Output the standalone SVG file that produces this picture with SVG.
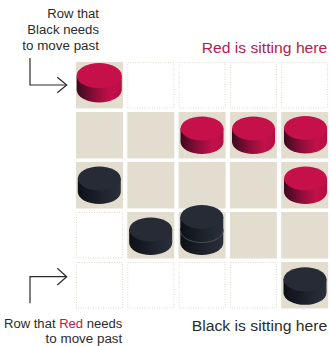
<svg xmlns="http://www.w3.org/2000/svg" xmlns:xlink="http://www.w3.org/1999/xlink" width="330" height="346" viewBox="0 0 330 346">
  <style>
    .fill { fill: #e3ddcf; }
    .empty { fill: #ffffff; stroke: #dedbcd; stroke-width: 1; stroke-dasharray: 1 1.5; }
    .lbl { font-family: "Liberation Sans", Arial, sans-serif; font-size: 12.5px; fill: #2b2b2b; }
    .big { font-family: "Liberation Sans", Arial, sans-serif; font-size: 15.5px; }
    .arrow { fill: none; stroke: #2b2b2b; stroke-width: 1.2; }
  </style>
  <defs>
    <linearGradient id="redSide" x1="0" y1="0" x2="1" y2="0">
      <stop offset="0" stop-color="#3a0a1f"/>
      <stop offset="0.4" stop-color="#8c0d38"/>
      <stop offset="0.75" stop-color="#c2114a"/>
      <stop offset="1" stop-color="#b50f44"/>
    </linearGradient>
    <linearGradient id="blackSide" x1="0" y1="0" x2="1" y2="0">
      <stop offset="0" stop-color="#0d1016"/>
      <stop offset="0.6" stop-color="#1f242e"/>
      <stop offset="1" stop-color="#2a303b"/>
    </linearGradient>
    <g id="redPiece">
      <path d="M -21.5 -7 L -21.5 6.5 A 21.5 12 0 0 0 21.5 6.5 L 21.5 -7 Z" fill="url(#redSide)"/>
      <ellipse cx="0" cy="-7" rx="21.5" ry="12" fill="#c6104a"/>
    </g>
    <g id="blackPiece">
      <path d="M -21.5 -7 L -21.5 6.5 A 21.5 12 0 0 0 21.5 6.5 L 21.5 -7 Z" fill="url(#blackSide)"/>
      <ellipse cx="0" cy="-7" rx="21.5" ry="12" fill="#262b36"/>
    </g>
  </defs>

  <g id="board">
    <rect class="fill" x="76" y="62" width="47" height="46.5"/>
    <rect class="empty" x="127.8" y="62.5" width="46" height="45.5"/>
    <rect class="empty" x="179.1" y="62.5" width="46" height="45.5"/>
    <rect class="empty" x="230.4" y="62.5" width="46" height="45.5"/>
    <rect class="empty" x="281.7" y="62.5" width="46" height="45.5"/>

    <rect class="fill" x="76" y="112" width="47" height="46.5"/>
    <rect class="fill" x="127.3" y="112" width="47" height="46.5"/>
    <rect class="fill" x="178.6" y="112" width="47" height="46.5"/>
    <rect class="fill" x="229.9" y="112" width="47" height="46.5"/>
    <rect class="fill" x="281.2" y="112" width="47" height="46.5"/>

    <rect class="fill" x="76" y="162" width="47" height="46.5"/>
    <rect class="fill" x="127.3" y="162" width="47" height="46.5"/>
    <rect class="fill" x="178.6" y="162" width="47" height="46.5"/>
    <rect class="fill" x="229.9" y="162" width="47" height="46.5"/>
    <rect class="fill" x="281.2" y="162" width="47" height="46.5"/>

    <rect class="empty" x="76.5" y="212.5" width="46" height="45.5"/>
    <rect class="fill" x="127.3" y="212" width="47" height="46.5"/>
    <rect class="fill" x="178.6" y="212" width="47" height="46.5"/>
    <rect class="fill" x="229.9" y="212" width="47" height="46.5"/>
    <rect class="fill" x="281.2" y="212" width="47" height="46.5"/>

    <rect class="empty" x="76.5" y="262.5" width="46" height="45.5"/>
    <rect class="empty" x="127.8" y="262.5" width="46" height="45.5"/>
    <rect class="empty" x="179.1" y="262.5" width="46" height="45.5"/>
    <rect class="empty" x="230.4" y="262.5" width="46" height="45.5"/>
    <rect class="fill" x="281.2" y="262" width="47" height="46.5"/>
  </g>

  <g id="pieces">
    <use xlink:href="#redPiece" transform="translate(99.2 83) scale(1.05)"/>
    <use xlink:href="#redPiece" transform="translate(202 135.5)"/>
    <use xlink:href="#redPiece" transform="translate(253.5 135.5)"/>
    <use xlink:href="#redPiece" transform="translate(305.5 135)"/>
    <use xlink:href="#redPiece" transform="translate(305.5 185.5)"/>
    <use xlink:href="#blackPiece" transform="translate(99.3 185.5)"/>
    <use xlink:href="#blackPiece" transform="translate(150.7 236.5)"/>
    <use xlink:href="#blackPiece" transform="translate(201.8 236.5)"/>
    <use xlink:href="#blackPiece" transform="translate(201.8 224)"/>
    <path d="M 180.3 230.5 A 21.5 12 0 0 0 223.3 230.5" fill="none" stroke="#525a68" stroke-width="0.8"/>
    <use xlink:href="#blackPiece" transform="translate(305 286.3)"/>
  </g>

  <g id="connectors">
    <path class="arrow" d="M 30 58 L 30 85 L 66.5 85"/>
    <path class="arrow" d="M 57.3 77.3 L 66.7 85 L 57.3 92.7"/>
    <path class="arrow" d="M 30 303.3 L 30 276.7 L 66.5 276.7"/>
    <path class="arrow" d="M 57.3 268.3 L 66.7 276.7 L 57.3 285"/>
  </g>

  <g id="label-top-left">
    <text class="lbl" x="99" y="18.3" text-anchor="end" textLength="51.7" lengthAdjust="spacingAndGlyphs">Row that</text>
    <text class="lbl" x="99" y="34.2" text-anchor="end" textLength="71.7" lengthAdjust="spacingAndGlyphs">Black needs</text>
    <text class="lbl" x="99" y="50" text-anchor="end" textLength="76.7" lengthAdjust="spacingAndGlyphs">to move past</text>
  </g>

  <g id="label-red-sitting">
    <text class="big" x="327.3" y="53.3" text-anchor="end" fill="#b5204e" textLength="125.6" lengthAdjust="spacingAndGlyphs">Red is sitting here</text>
  </g>

  <g id="label-bottom-left">
    <text class="lbl" x="122.3" y="328.3" text-anchor="end" textLength="118.3" lengthAdjust="spacingAndGlyphs">Row that <tspan fill="#b5204e">Red</tspan> needs</text>
    <text class="lbl" x="122.3" y="343.3" text-anchor="end" textLength="76.7" lengthAdjust="spacingAndGlyphs">to move past</text>
  </g>

  <g id="label-black-sitting">
    <text class="big" x="327.3" y="330.7" text-anchor="end" fill="#2b2b2b" textLength="135.6" lengthAdjust="spacingAndGlyphs">Black is sitting here</text>
  </g>
</svg>
